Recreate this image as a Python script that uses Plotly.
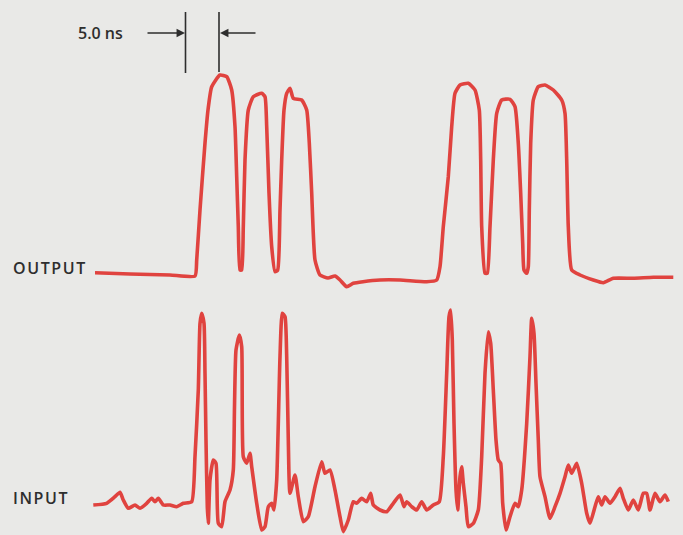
import plotly.graph_objects as go

# traced trace positions (time axis in screen units, amplitude downward)
out_t = [95, 130, 170, 195, 196.7, 200, 205, 208, 211.7, 220, 226.7, 231.7, 235, 236.7, 238.3, 240, 241.7,
         243.3, 245, 248.3, 253.3, 261.7, 265, 266.7, 269, 271.7, 275, 277.7, 280, 281.7, 284, 286.7, 290,
         293.3, 301.7, 306.7, 309.3, 311.7, 315, 320, 328, 335, 340, 346.7, 353.3, 363, 380, 400, 426.7,
         436.7, 440, 443.3, 448.3, 451.7, 455, 460, 468.3, 475, 479.3, 480.7, 481.7, 485, 487.3, 490, 493.3,
         496.7, 501.7, 510, 515, 518.3, 520.7, 522.7, 524, 526.7, 528.3, 529.3, 530.7, 533.3, 538.3, 545,
         553.3, 561.7, 565, 566.7, 568.3, 571.7, 580, 593.3, 603.3, 613.3, 633.3, 653.3, 673.3]
out_v = [272.7, 274, 275, 276, 260, 210, 143, 110, 86.7, 75, 76.7, 90, 126.7, 176.7, 226.7, 270, 270,
         226.7, 160, 110, 96.7, 93.3, 96.7, 126.7, 193, 246.7, 271.7, 270, 210, 160, 110, 93.3, 88.3,
         98.3, 100, 110, 143, 193, 260, 275, 278, 276, 280, 286.7, 283.3, 281.7, 280, 280, 281.7,
         280, 266.7, 226.7, 176.7, 126.7, 93.3, 85, 83.3, 90, 110, 160, 226.7, 273.3, 273.3, 226.7, 160,
         113.3, 100, 99.3, 106.7, 143.3, 193.3, 243.3, 270, 273.3, 266.7, 210, 143.3, 100, 86.7, 85,
         90, 100, 113.3, 160, 226.7, 270, 275, 280, 282.7, 278.3, 278.3, 277.3, 277.3]

in_t = [93.3, 106.7, 115, 120, 123.3, 128.3, 135, 140, 146.7, 151.7, 155, 158.3, 163.3, 170, 176.7, 183.3,
        191.7, 195, 198.3, 200, 201.7, 204, 205, 206, 207.3, 208.3, 210, 213.3, 216, 218.3, 221.7,
        225, 230, 233.3, 234.5, 236, 239.3, 241.7, 243.3, 246.7, 250, 251.7, 256.7, 261.7, 265,
        268.3, 271.7, 274, 276.7, 280, 282.3, 285, 286.7, 288.3, 290, 295, 298.3, 303.3, 308.3,
        315, 321.7, 325, 330, 335, 340, 343.3, 348.3, 353.3, 356.7, 361.7, 366.7, 370.7, 373.3, 380,
        386.7, 393.3, 400, 404, 406.7, 411.7, 416.7, 421.7, 426.7, 433.3, 439.3, 443.3, 446.7, 449,
        450.7, 452.3, 454, 456, 457.7, 460, 461.7, 463.3, 466, 468.3, 473.3, 478.3, 481.7, 485, 488.3,
        490.7, 493.3, 496, 498.3, 500.7, 502.7, 506, 510, 515, 518.3, 521.7, 526.7, 530, 531.7, 534,
        536, 538.3, 540, 545, 550, 555, 560, 565, 568.3, 571.7, 576.7, 581.7, 586.7, 590, 595, 598.3,
        601.7, 605, 610, 615, 620, 623.3, 628.3, 633.3, 638.3, 643.3, 646.7, 650, 655, 660, 665, 668.3]
in_v = [505, 503.3, 496.7, 492.3, 500, 508.3, 505, 508.3, 503.3, 498.3, 501.7, 498.3, 505, 505, 506.7, 503.3,
        501.7, 456.7, 390, 323.3, 313.3, 323.3, 373.3, 440, 506.7, 523.3, 480, 460, 463.3, 523.3, 526.7,
        501.7, 490, 470, 406.7, 350, 335, 346.7, 456.7, 463.3, 453.3, 466.7, 503.3, 530, 526.7,
        506.7, 503.3, 510, 480, 356.7, 313.3, 316.7, 356.7, 440, 493.3, 475, 496.7, 521.7, 516.7,
        486.7, 461.7, 473.3, 470, 490, 516.7, 531.7, 520, 501.7, 503.3, 498.3, 501.7, 493.3, 505, 510,
        511.7, 503.3, 495, 506.7, 501.7, 506.7, 510, 501.7, 510, 505, 501.7, 456.7, 373.3, 316.7,
        310, 340, 423.3, 490, 510, 476.7, 466.7, 483.3, 506.7, 526.7, 523.3, 510, 456.7, 373.3, 331.7,
        343.3, 390, 440, 460, 463.3, 503.3, 530, 516.7, 503.3, 506.7, 490, 423.3, 356.7, 318.3, 333.3,
        383.3, 440, 476.7, 496.7, 518.3, 506.7, 493.3, 476.7, 465, 473.3, 463.3, 483.3, 513.3, 523.3, 506.7, 496.7,
        505, 496.7, 503.3, 496.7, 488.3, 498.3, 510, 500, 510, 493.3, 493.3, 510, 493.3, 501.7, 495, 501.7]

RED = "#e0433f"
INK = "#2e2e2e"
BG = "#e9e9e7"
SP = "\u200a"  # hair space for the wide letter spacing of the labels

fig = go.Figure()
fig.add_trace(go.Scatter(x=out_t, y=out_v, mode="lines",
                         line=dict(color=RED, width=3.6, shape="spline", smoothing=0.5), hoverinfo="skip"))
fig.add_trace(go.Scatter(x=in_t, y=in_v, mode="lines",
                         line=dict(color=RED, width=3.6, shape="spline", smoothing=0.5), hoverinfo="skip"))

# 5.0 ns scale marker
fig.add_shape(type="line", x0=185.5, x1=185.5, y0=12, y1=73, line=dict(color=INK, width=1.6))
fig.add_shape(type="line", x0=219, x1=219, y0=12, y1=72, line=dict(color=INK, width=1.6))
fig.add_annotation(x=185, y=33, ax=146, ay=33, axref="x", ayref="y", text="", showarrow=True,
                   arrowhead=2, arrowsize=1.3, arrowwidth=1.3, arrowcolor=INK)
fig.add_annotation(x=220, y=33, ax=257, ay=33, axref="x", ayref="y", text="", showarrow=True,
                   arrowhead=2, arrowsize=1.3, arrowwidth=1.3, arrowcolor=INK)
fig.add_annotation(x=76, y=33, text="5.0 ns", showarrow=False, xanchor="left",
                   font=dict(family="Open Sans", size=16, color=INK, weight=600))

fig.add_annotation(x=11, y=268, text=SP.join("OUTPUT"), showarrow=False, xanchor="left",
                   font=dict(family="Open Sans", size=16, color=INK, weight=600))
fig.add_annotation(x=11, y=498, text=SP.join("INPUT"), showarrow=False, xanchor="left",
                   font=dict(family="Open Sans", size=16, color=INK, weight=600))

fig.update_xaxes(range=[0, 683], visible=False, fixedrange=True)
fig.update_yaxes(range=[535, 0], visible=False, fixedrange=True)
fig.update_layout(width=683, height=535, margin=dict(l=0, r=0, t=0, b=0),
                  paper_bgcolor=BG, plot_bgcolor=BG, showlegend=False)

fig.write_html("out.html", config={"displayModeBar": False},
               post_script="document.body.style.margin='0';")
